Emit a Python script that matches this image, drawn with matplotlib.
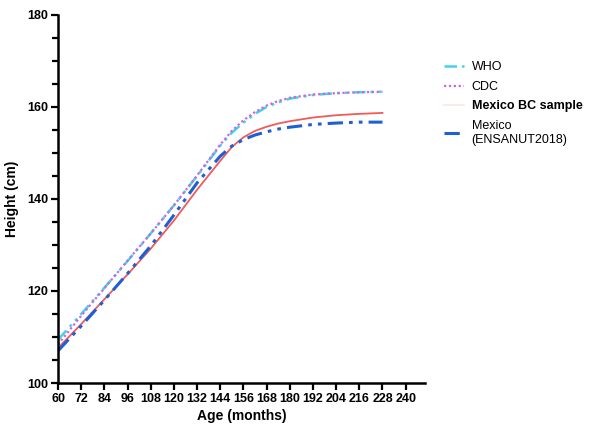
import matplotlib
matplotlib.use("Agg")
import matplotlib.pyplot as plt
import numpy as np

# ========================= data ========================= #
age = [60, 72, 84, 96, 108, 120, 132, 144, 150, 156, 162, 168, 174, 180, 192, 204, 216, 228]

who = [109.4, 115.0, 120.7, 126.5, 132.5, 138.6, 145.0, 151.6, 154.4, 156.6,
       158.5, 160.0, 161.0, 161.8, 162.6, 163.0, 163.2, 163.3]
cdc = [108.4, 114.6, 120.6, 126.6, 132.5, 138.6, 145.1, 151.8, 154.8, 157.1,
       158.9, 160.3, 161.3, 162.0, 162.7, 163.0, 163.2, 163.3]
bc_sample = [107.6, 112.8, 118.2, 123.6, 129.2, 135.3, 142.0, 148.3, 151.3, 153.4,
             154.8, 155.7, 156.4, 156.9, 157.7, 158.2, 158.5, 158.7]
ensanut = [107.0, 112.4, 118.0, 123.8, 129.8, 136.5, 143.5, 149.3, 151.5, 152.9,
           153.9, 154.6, 155.2, 155.6, 156.2, 156.5, 156.7, 156.7]

xticks = list(range(60, 241, 12))
yticks = [100, 120, 140, 160, 180]
# ======================================================== #

plt.rcParams['font.family'] = ['Liberation Sans', 'DejaVu Sans']

fig = plt.figure(figsize=(5.89, 4.29), dpi=100)
ax = fig.add_axes([0.0985, 0.1072, 0.623, 0.858])

ax.plot(age, who, color='#45d3e6', lw=1.8, dashes=(5, 2, 1.2, 2, 1.2, 2), label='WHO')
ax.plot(age, cdc, color='#cc66e0', lw=1.6, linestyle=(0, (1, 1.2)), label='CDC')
ax.plot(age, bc_sample, color='#f05a5a', lw=1.3, label='Mexico BC sample')
ax.plot(age, ensanut, color='#1f5fd6', lw=2.2, dashes=(5, 2, 1.2, 2, 1.2, 2),
        label='Mexico\n(ENSANUT2018)')

ax.set_xlim(60, 250)
ax.set_ylim(100, 180)
ax.set_xticks(xticks)
ax.set_yticks(yticks)
ax.set_yticks(np.arange(100, 181, 5), minor=True)
ax.tick_params(axis='both', which='major', direction='out', length=5, width=1.6,
               labelsize=9, pad=2)
ax.tick_params(axis='y', which='minor', direction='out', length=4, width=1.6)
for lab in ax.get_xticklabels() + ax.get_yticklabels():
    lab.set_fontweight('bold')

for s in ['top', 'right']:
    ax.spines[s].set_visible(False)
for s in ['left', 'bottom']:
    ax.spines[s].set_linewidth(1.8)

ax.set_xlabel('Age (months)', fontsize=10, fontweight='bold', labelpad=3)
ax.set_ylabel('Height (cm)', fontsize=10, fontweight='bold', labelpad=6)

leg = fig.legend(loc='upper left', bbox_to_anchor=(0.735, 0.883), frameon=False,
                 fontsize=9, handlelength=1.6, handletextpad=0.6, labelspacing=0.6)
leg.get_lines()[2].set_alpha(0.15)
leg.get_texts()[2].set_fontweight('bold')

fig.savefig('out.png', dpi=100)
